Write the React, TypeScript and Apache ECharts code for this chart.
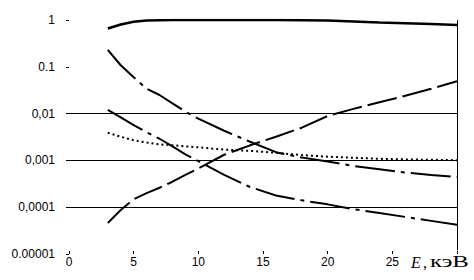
import React, { useEffect, useRef } from 'react';
import * as echarts from 'echarts';

// Energy, keV
const energy = [3, 4, 5, 6, 7, 8, 9, 10, 12, 14, 16, 18, 20, 22, 24, 26, 28, 30];
// Curves (log scale values)
const solidTop = [0.66, 0.8, 0.92, 0.97, 0.99, 1, 1, 1, 1, 1, 1, 0.99, 0.97, 0.93, 0.88, 0.85, 0.82, 0.78];
const dashDotUpper = [0.23, 0.108, 0.06, 0.034, 0.025, 0.0166, 0.011, 0.0078, 0.0043, 0.0025, 0.0015, 0.00115, 0.00095, 0.00076, 0.00065, 0.00055, 0.00049, 0.00044];
const dashDotLower = [0.012, 0.0083, 0.0057, 0.004, 0.0029, 0.002, 0.00135, 0.00096, 0.00049, 0.00027, 0.000178, 0.00014, 0.000115, 0.000091, 0.000075, 0.000062, 0.000051, 0.000042];
const longDash = [0.000046, 0.000087, 0.000148, 0.0002, 0.00026, 0.00035, 0.00049, 0.00067, 0.00132, 0.0021, 0.0032, 0.005, 0.0089, 0.0126, 0.0175, 0.024, 0.034, 0.049];
const dotted = [0.0039, 0.0032, 0.0027, 0.0024, 0.0022, 0.0021, 0.002, 0.0019, 0.0017, 0.0016, 0.00145, 0.0013, 0.0012, 0.00114, 0.00108, 0.00105, 0.00103, 0.00101];

// Axis texts
const yTickLabels = ['1', '0.1', '0,01', '0,001', '0,0001', '0.00001'];
const xTickLabels = ['0', '5', '10', '15', '20', '25', ''];
const gridValues = [0.01, 0.001, 0.0001];
const xMax = 30;
const axisTitleE = 'E';
const axisTitleComma = ',';
const axisTitleUnit = 'кэВ';

const pairs = (vals: number[]) => energy.map((e, i) => [e, vals[i]]);

export default function App() {
  const ref = useRef<HTMLDivElement>(null);
  useEffect(() => {
    if (!ref.current) return;
    const chart = echarts.init(ref.current, undefined, { renderer: 'svg' });
    const font = "'Liberation Sans', Arial, sans-serif";
    const serif = "'Liberation Serif', 'Times New Roman', serif";
    const base = { type: 'line', showSymbol: false, symbol: 'none', silent: true };
    chart.setOption({
      animation: false,
      backgroundColor: '#ffffff',
      grid: { left: 69, right: 17, top: 20, bottom: 26 },
      xAxis: {
        type: 'value',
        min: 0,
        max: xMax,
        interval: 5,
        axisLine: { show: false },
        axisTick: { show: true, inside: true, length: 3, lineStyle: { color: '#000' } },
        splitLine: { show: false },
        axisLabel: {
          margin: 2,
          color: '#000',
          fontFamily: font,
          fontSize: 12,
          formatter: (v: number) => xTickLabels[Math.round(v / 5)] ?? '',
        },
      },
      yAxis: {
        type: 'log',
        logBase: 10,
        min: 0.00001,
        max: 1,
        axisLine: { show: false },
        axisTick: { show: true, length: 3, lineStyle: { color: '#000' } },
        splitLine: { show: false },
        axisLabel: {
          margin: 14,
          color: '#000',
          fontFamily: font,
          fontSize: 12,
          formatter: (v: number) => yTickLabels[-Math.round(Math.log10(v))] ?? '',
        },
      },
      series: [
        {
          ...base,
          data: pairs(solidTop),
          lineStyle: { color: '#000', width: 2.5, type: 'solid' },
          markLine: {
            silent: true,
            symbol: 'none',
            label: { show: false },
            lineStyle: { color: '#000', width: 1, type: 'solid' },
            data: [
              ...gridValues.map((g) => [{ coord: [0, g] }, { coord: [xMax, g] }]),
              [{ coord: [xMax, 1] }, { coord: [xMax, 0.000012] }],
            ],
          },
        },
        { ...base, data: pairs(dashDotUpper), lineStyle: { color: '#000', width: 2, type: [40, 6, 4, 6] } },
        { ...base, data: pairs(dashDotLower), lineStyle: { color: '#000', width: 2, type: [40, 6, 4, 6] } },
        { ...base, data: pairs(longDash), lineStyle: { color: '#000', width: 2, type: [30, 6] } },
        { ...base, data: pairs(dotted), lineStyle: { color: '#000', width: 2, type: [2, 3] } },
      ],
      graphic: [
        {
          type: 'text',
          x: 411,
          y: 254,
          style: { text: axisTitleE, x: 0, y: 0, font: `italic 16px ${serif}`, fill: '#000', textVerticalAlign: 'top' },
        },
        {
          type: 'text',
          x: 423,
          y: 254,
          style: { text: axisTitleComma, x: 0, y: 0, font: `16px ${serif}`, fill: '#000', textVerticalAlign: 'top' },
        },
        {
          type: 'text',
          x: 430,
          y: 254,
          scaleX: 1.55,
          style: { text: axisTitleUnit, x: 0, y: 0, font: `16px ${serif}`, fill: '#000', textVerticalAlign: 'top' },
        },
      ],
    });
    return () => chart.dispose();
  }, []);
  return <div ref={ref} style={{ position: 'absolute', left: 0, top: 0, width: 474, height: 280 }} />;
}
